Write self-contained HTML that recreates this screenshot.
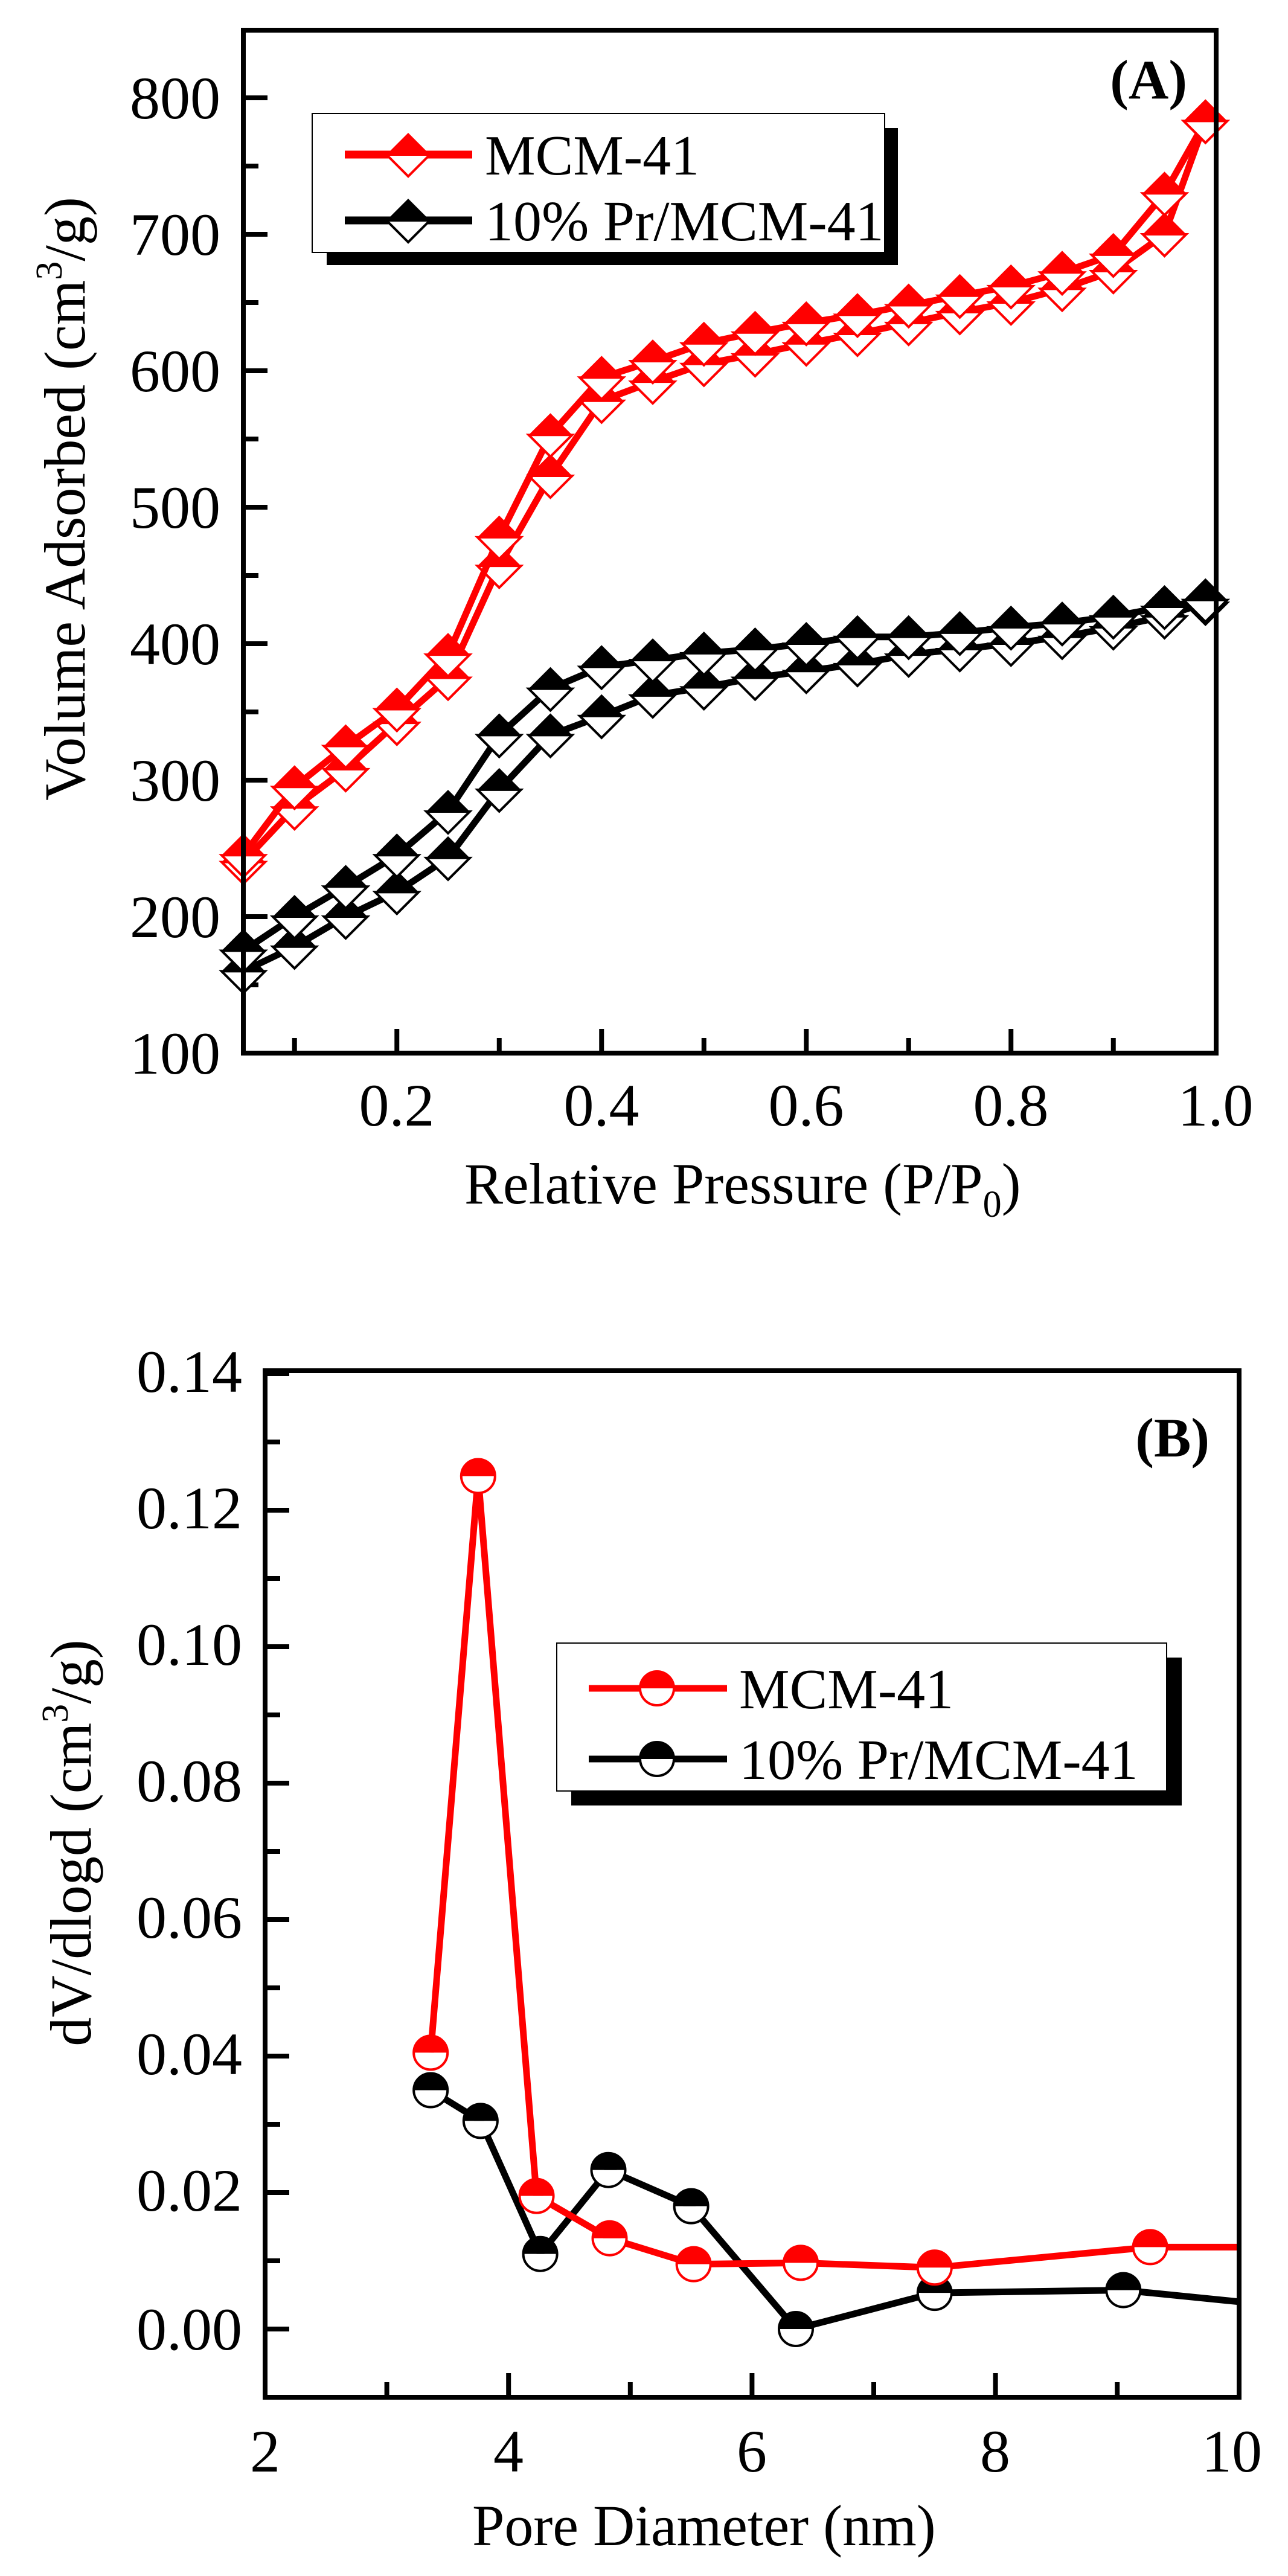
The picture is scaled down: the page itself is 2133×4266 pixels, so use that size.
<!DOCTYPE html>
<html><head><meta charset="utf-8"><style>
html,body{margin:0;padding:0;background:#fff;}
svg{display:block;font-family:"Liberation Serif",serif;}
</style></head><body>
<svg id="s" width="2133" height="4266" viewBox="0 0 2133 4266" xmlns="http://www.w3.org/2000/svg">
<rect width="2133" height="4266" fill="#fff"/>
<g id="plots"></g>
<!-- Panel A frame -->
<rect x="403" y="50" width="1611" height="1694" fill="none" stroke="#000" stroke-width="8"/>
<g font-size="100" text-anchor="end">
<text x="365" y="196">800</text><text x="365" y="422">700</text><text x="365" y="648">600</text>
<text x="365" y="874">500</text><text x="365" y="1100">400</text><text x="365" y="1326">300</text>
<text x="365" y="1552">200</text><text x="365" y="1778">100</text>
</g>
<g font-size="100" text-anchor="middle">
<text x="657" y="1864">0.2</text><text x="996" y="1864">0.4</text><text x="1335" y="1864">0.6</text>
<text x="1674" y="1864">0.8</text><text x="2013" y="1864">1.0</text>
</g>
<text x="769" y="1993" font-size="96">Relative Pressure (P/P<tspan font-size="62" dy="22">0</tspan><tspan dy="-22">)</tspan></text>
<text transform="translate(140,826) rotate(-90)" text-anchor="middle" font-size="96">Volume Adsorbed (cm<tspan font-size="62" dy="-38">3</tspan><tspan dy="38">/g)</tspan></text>
<text x="1966" y="163" font-size="92" font-weight="bold" text-anchor="end">(A)</text>
<!-- legend A -->
<rect x="541" y="212" width="946" height="227" fill="#000"/>
<rect x="517" y="188" width="948" height="230" fill="#fff" stroke="#000" stroke-width="2"/>
<text x="803" y="289" font-size="94">MCM-41</text>
<text x="803" y="398" font-size="94">10% Pr/MCM-41</text>

<!-- Panel B frame -->
<rect x="439" y="2270" width="1613" height="1700" fill="none" stroke="#000" stroke-width="8"/>
<g font-size="100" text-anchor="end">
<text x="401" y="2305">0.14</text><text x="401" y="2531">0.12</text><text x="401" y="2757">0.10</text>
<text x="401" y="2983">0.08</text><text x="401" y="3209">0.06</text><text x="401" y="3435">0.04</text>
<text x="401" y="3661">0.02</text><text x="401" y="3891">0.00</text>
</g>
<g font-size="100" text-anchor="middle">
<text x="439" y="4093">2</text><text x="842" y="4093">4</text><text x="1245" y="4093">6</text>
<text x="1648" y="4093">8</text><text x="2040" y="4093">10</text>
</g>
<text x="782" y="4215" font-size="96">Pore Diameter (nm)</text>
<text transform="translate(150,3052) rotate(-90)" text-anchor="middle" font-size="96">dV/dlogd (cm<tspan font-size="62" dy="-38">3</tspan><tspan dy="38">/g)</tspan></text>
<text x="2003" y="2412" font-size="92" font-weight="bold" text-anchor="end">(B)</text>
<rect x="946" y="2745" width="1011" height="245" fill="#000"/>
<rect x="922" y="2721" width="1010" height="245" fill="#fff" stroke="#000" stroke-width="2"/>
<text x="1224" y="2829" font-size="94">MCM-41</text>
<text x="1224" y="2946" font-size="94">10% Pr/MCM-41</text>
<g id="top"></g>
</svg>
<script>
var NS="http://www.w3.org/2000/svg",g=document.getElementById('plots');
function el(t,a){var e=document.createElementNS(NS,t);for(var k in a)e.setAttribute(k,a[k]);g.appendChild(e);return e;}
function line(x1,y1,x2,y2,w,c){el('line',{x1:x1,y1:y1,x2:x2,y2:y2,stroke:c||'#000','stroke-width':w});}
for(var i=0;i<=10;i++){var major=(i%2==1);var x=403+(i*0.1+0.1-0.05)*1695;if(x>2010)break;line(x,1744,x,1744-(major?40:25),8);}
for(var v=150;v<=850;v+=50){var y=1744-(v-100)*2.26;if(y<55)break;line(403,y,403+((v%100==0)?40:25),y,8);}
for(var d=3;d<10;d++){var x=439+(d-2)*201.6;line(x,3970,x,3970-(d%2==0?40:25),8);}
for(var k=0;k<15;k++){var v=k*0.01;var y=3857-v*11300;line(439,y,439+(k%2==0?40:25),y,8);}
function diamond(x,y,c){var r=36;
 el('path',{d:'M'+(x-r)+','+y+' L'+x+','+(y-r)+' L'+(x+r)+','+y+' Z',fill:c});
 el('path',{d:'M'+(x-r)+','+y+' L'+x+','+(y+r)+' L'+(x+r)+','+y+' Z',fill:'#fff',stroke:c,'stroke-width':4});}
function circ(x,y,c){var r=28;
 el('path',{d:'M'+(x-r)+','+y+' A'+r+','+r+' 0 0 1 '+(x+r)+','+y+' Z',fill:c});
 el('path',{d:'M'+(x-r)+','+y+' A'+r+','+r+' 0 0 0 '+(x+r)+','+y+' Z',fill:'#fff'});
 el('circle',{cx:x,cy:y,r:r,fill:'none',stroke:c,'stroke-width':4});}
function series(pts,fx,fy,c,mk,drawLast){var p=pts.map(function(q){return [fx(q[0]),fy(q[1])];});
 el('polyline',{points:p.map(function(q){return q.join(',');}).join(' '),fill:'none',stroke:c,'stroke-width':11,'stroke-linejoin':'round'});
 p.forEach(function(q,i){if(drawLast===false&&i==p.length-1)return;mk(q[0],q[1],c);});}
var ax=function(p){return 403+(p-0.05)*1695;},ay=function(v){return 1744-(v-100)*2.26;};
var P=[0.05,0.1,0.15,0.2,0.25,0.3,0.35,0.4,0.45,0.5,0.55,0.6,0.65,0.7,0.75,0.8,0.85,0.9,0.95,0.99];
function z(a){return P.map(function(p,i){return [p,a[i]];});}
var ru=[245,295,325,352,392,478,553,595,607,620,628,635,641,648,655,662,672,685,730,783];
var rl=[240,280,308,342,375,457,523,578,592,605,612,620,627,635,643,650,660,673,700,783];
var bu=[175,200,222,245,277,333,367,383,388,393,396,400,405,405,408,412,415,420,427,432];
var bl=[160,178,200,218,243,293,333,347,362,368,375,380,385,392,396,400,405,412,420,430];
series(z(bl),ax,ay,'#000',diamond);series(z(bu),ax,ay,'#000',diamond);
series(z(rl),ax,ay,'#f00',diamond);series(z(ru),ax,ay,'#f00',diamond);
var bx=function(d){return 439+(d-2)*201.6;},by=function(v){return 3857-v*11300;};
series([[3.36,0.035],[3.77,0.0305],[4.26,0.011],[4.82,0.0233],[5.5,0.018],[6.36,0.0],[7.5,0.0053],[9.05,0.0057],[10,0.004]],bx,by,'#000',circ,false);
series([[3.36,0.0405],[3.75,0.125],[4.23,0.0195],[4.83,0.0133],[5.52,0.0095],[6.4,0.0097],[7.5,0.009],[9.27,0.012],[10,0.012]],bx,by,'#f00',circ,false);
g=document.getElementById('top');
line(571,256,782,256,13,'#f00');diamond(676,256,'#f00');
line(571,365,782,365,13,'#000');diamond(676,365,'#000');
line(975,2796,1204,2796,11,'#f00');circ(1088,2796,'#f00');
line(975,2913,1204,2913,11,'#000');circ(1088,2913,'#000');
</script>
</body></html>
